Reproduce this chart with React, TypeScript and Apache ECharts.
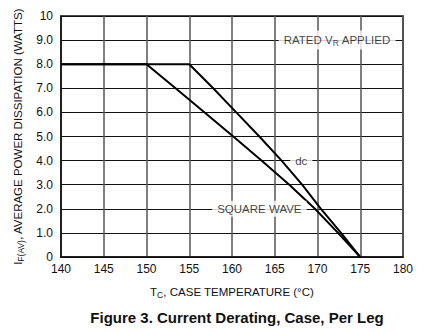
import React, { useEffect, useRef } from "react";
import * as echarts from "echarts";

const xTicks = [140, 145, 150, 155, 160, 165, 170, 175, 180];
const yTicks = [0, 1, 2, 3, 4, 5, 6, 7, 8, 9, 10];
const dcCurve: [number, number][] = [
  [140, 8], [155, 8], [157.8, 7], [160.5, 6], [163.2, 5], [165.8, 4],
  [168.2, 3], [170.4, 2], [172.75, 1], [175, 0],
];
const squareWave: [number, number][] = [
  [140, 8], [150, 8], [153.4, 7], [156.8, 6], [160.15, 5], [163.45, 4],
  [166.7, 3], [169.7, 2], [172.4, 1], [175, 0],
];
const annotations = [
  { x: 172.3, y: 9, text: "{n|RATED V}{s|R}{n| APPLIED}" },
  { x: 168.1, y: 4, text: "{n|dc}" },
  { x: 163.2, y: 2, text: "{n|SQUARE WAVE}" },
];

const FONT = "'Liberation Sans', Arial, sans-serif";

export default function App() {
  const ref = useRef<HTMLDivElement>(null);
  useEffect(() => {
    document.body.style.margin = "0";
    const chart = echarts.init(ref.current!, null, { renderer: "svg" });
    const rich = {
      n: { fontSize: 11.5, color: "#111", fontFamily: FONT },
      s: { fontSize: 8.5, color: "#111", fontFamily: FONT, verticalAlign: "bottom", padding: [6, 0, 0, 0] },
    };
    chart.setOption({
      animation: false,
      backgroundColor: "#fff",
      textStyle: { fontFamily: FONT },
      title: {
        text: "Figure 3. Current Derating, Case, Per Leg",
        left: 232,
        textAlign: "center",
        top: 305,
        textStyle: { fontFamily: FONT, fontWeight: "bold", fontSize: 15, color: "#111" },
      },
      grid: {
        left: 61, right: 25, top: 16, bottom: 74,
        show: true, borderColor: "#111", borderWidth: 1.5,
      },
      xAxis: {
        type: "value", min: xTicks[0], max: xTicks[xTicks.length - 1], interval: 5,
        axisLine: { show: true, lineStyle: { color: "#111", width: 1.5 } },
        axisTick: { show: false },
        axisLabel: { color: "#111", fontSize: 12, margin: 6, fontFamily: FONT },
        splitLine: { show: true, lineStyle: { color: "#555", width: 1.5 } },
        name: "{n|T}{s|C}{n|, CASE TEMPERATURE (°C)}",
        nameLocation: "middle",
        nameGap: 27,
        nameTextStyle: { rich },
      },
      yAxis: {
        type: "value", min: yTicks[0], max: yTicks[yTicks.length - 1], interval: 1,
        axisLine: { show: true, lineStyle: { color: "#111", width: 1.5 } },
        axisTick: { show: false },
        axisLabel: {
          color: "#111", fontSize: 12, margin: 8, fontFamily: FONT,
          formatter: (v: number) => (v === 0 || v === 10 ? String(v) : v.toFixed(1)),
        },
        splitLine: { show: true, lineStyle: { color: "#111", width: 1 } },
        name: "{n|I}{s|F(AV)}{n|, AVERAGE POWER DISSIPATION (WATTS)}",
        nameLocation: "middle",
        nameGap: 33,
        nameRotate: 90,
        nameTextStyle: { rich },
      },
      series: [
        {
          type: "line", data: squareWave, symbol: "none",
          lineStyle: { color: "#000", width: 2 }, z: 3,
        },
        {
          type: "line", data: dcCurve, symbol: "none",
          lineStyle: { color: "#000", width: 2 }, z: 3,
        },
        {
          type: "scatter", symbolSize: 0, z: 5,
          data: annotations.map((a) => ({ value: [a.x, a.y], label: { formatter: a.text } })),
          label: {
            show: true, position: "inside",
            backgroundColor: "#fff", padding: [2, 5, 2, 5],
            rich,
          },
        },
      ],
    });
    return () => chart.dispose();
  }, []);
  return <div ref={ref} style={{ position: "absolute", left: 0, top: 0, width: 428, height: 331 }} />;
}
